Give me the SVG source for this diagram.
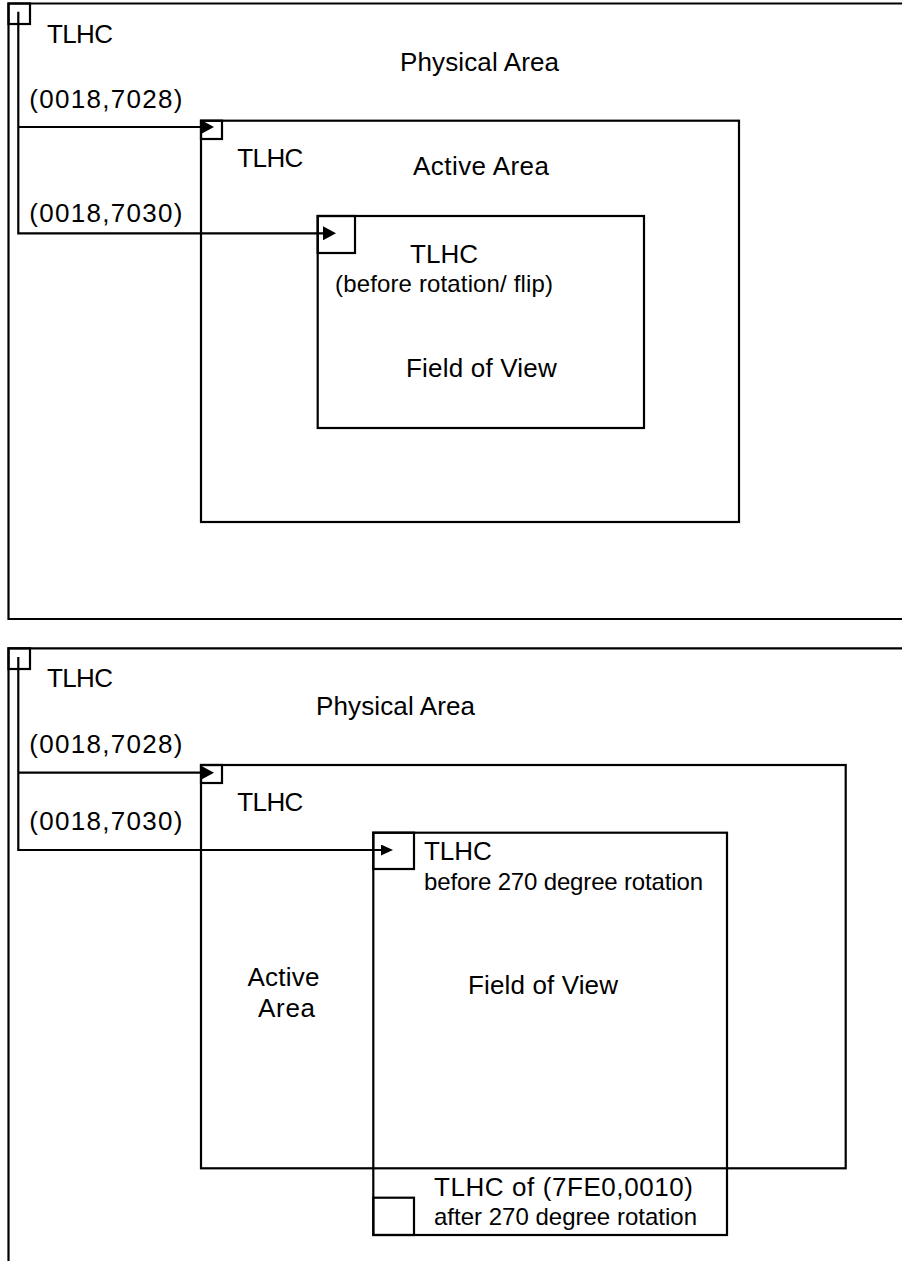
<svg xmlns="http://www.w3.org/2000/svg" width="902" height="1261" viewBox="0 0 902 1261">
<style>
.ln{fill:none;stroke:#000;stroke-width:2.2;}
.t{font-family:"Liberation Sans",Arial,sans-serif;font-size:26px;fill:#000;}
.s{font-family:"Liberation Sans",Arial,sans-serif;font-size:24px;fill:#000;}
</style>
<defs>
<marker id="arr" markerUnits="userSpaceOnUse" markerWidth="14" markerHeight="14" refX="0" refY="7" orient="auto"><path d="M0,0 L13,7 L0,14 Z" fill="#000"/></marker>
<marker id="arrs" markerUnits="userSpaceOnUse" markerWidth="13" markerHeight="11" refX="0" refY="5.5" orient="auto"><path d="M0,0 L12,5.5 L0,11 Z" fill="#000"/></marker>
</defs>
<rect width="902" height="1261" fill="#fff"/>

<!-- Top panel -->
<g id="physical1">
<path class="ln" d="M910 3.5 H8.5 V619 H910"/>
<rect class="ln" x="8.5" y="3.5" width="21.5" height="20.5"/>
<text class="t" x="47" y="42.7" textLength="66" lengthAdjust="spacing">TLHC</text>
<text class="t" x="400" y="71" textLength="159" lengthAdjust="spacing">Physical Area</text>
<text class="t" x="29.3" y="108.3" textLength="153" lengthAdjust="spacing">(0018,7028)</text>
<text class="t" x="29.3" y="221.7" textLength="153" lengthAdjust="spacing">(0018,7030)</text>
</g>
<g id="active1">
<rect class="ln" x="201" y="120.7" width="538" height="401.3"/>
<rect class="ln" x="201" y="120.7" width="21" height="18.3"/>
<text class="t" x="237.3" y="166.7" textLength="66" lengthAdjust="spacing">TLHC</text>
<text class="t" x="413" y="175" textLength="136" lengthAdjust="spacing">Active Area</text>
</g>
<g id="fov1">
<rect class="ln" x="317.7" y="216" width="326.3" height="212"/>
<rect class="ln" x="317.7" y="216" width="37.3" height="37"/>
<text class="t" x="410" y="263" textLength="68" lengthAdjust="spacing">TLHC</text>
<text class="s" x="335" y="292" textLength="218" lengthAdjust="spacing">(before rotation/ flip)</text>
<text class="t" x="406" y="377.3" textLength="150.7" lengthAdjust="spacing">Field of View</text>
</g>

<!-- Bottom panel -->
<g id="physical2">
<path class="ln" d="M910 648.3 H8.5 V1265"/>
<rect class="ln" x="8.5" y="648.3" width="21.5" height="20.7"/>
<text class="t" x="47" y="686.7" textLength="66" lengthAdjust="spacing">TLHC</text>
<text class="t" x="316" y="715" textLength="159" lengthAdjust="spacing">Physical Area</text>
<text class="t" x="29.3" y="753.3" textLength="153" lengthAdjust="spacing">(0018,7028)</text>
<text class="t" x="29.3" y="830" textLength="153" lengthAdjust="spacing">(0018,7030)</text>
</g>
<g id="active2">
<rect class="ln" x="201" y="765" width="644.7" height="403.3"/>
<rect class="ln" x="201" y="765" width="21" height="18"/>
<text class="t" x="237.3" y="811" textLength="66" lengthAdjust="spacing">TLHC</text>
<text class="t" x="247.4" y="986" textLength="72" lengthAdjust="spacing">Active</text>
<text class="t" x="258" y="1017" textLength="57" lengthAdjust="spacing">Area</text>
</g>
<g id="fov2">
<rect class="ln" x="373.3" y="832.7" width="353.7" height="402.3"/>
<rect class="ln" x="373.3" y="832.7" width="40.7" height="36.3"/>
<rect class="ln" x="373.3" y="1197.7" width="40.7" height="37.3"/>
<text class="t" x="424" y="860" textLength="67.7" lengthAdjust="spacing">TLHC</text>
<text class="s" x="424" y="890" textLength="279" lengthAdjust="spacing">before 270 degree rotation</text>
<text class="t" x="468" y="994" textLength="150" lengthAdjust="spacing">Field of View</text>
<text class="t" x="434" y="1195.5" textLength="259" lengthAdjust="spacing">TLHC of (7FE0,0010)</text>
<text class="s" x="434" y="1225" textLength="263" lengthAdjust="spacing">after 270 degree rotation</text>
</g>

<g id="connectors">
<path class="ln" d="M18.3 11.7 V233.3 H323" marker-end="url(#arr)"/>
<path class="ln" d="M18.3 127 H201" marker-end="url(#arr)"/>
<path class="ln" d="M18.3 657 V850 H381" marker-end="url(#arrs)"/>
<path class="ln" d="M18.3 772.7 H201" marker-end="url(#arr)"/>
</g>
</svg>
